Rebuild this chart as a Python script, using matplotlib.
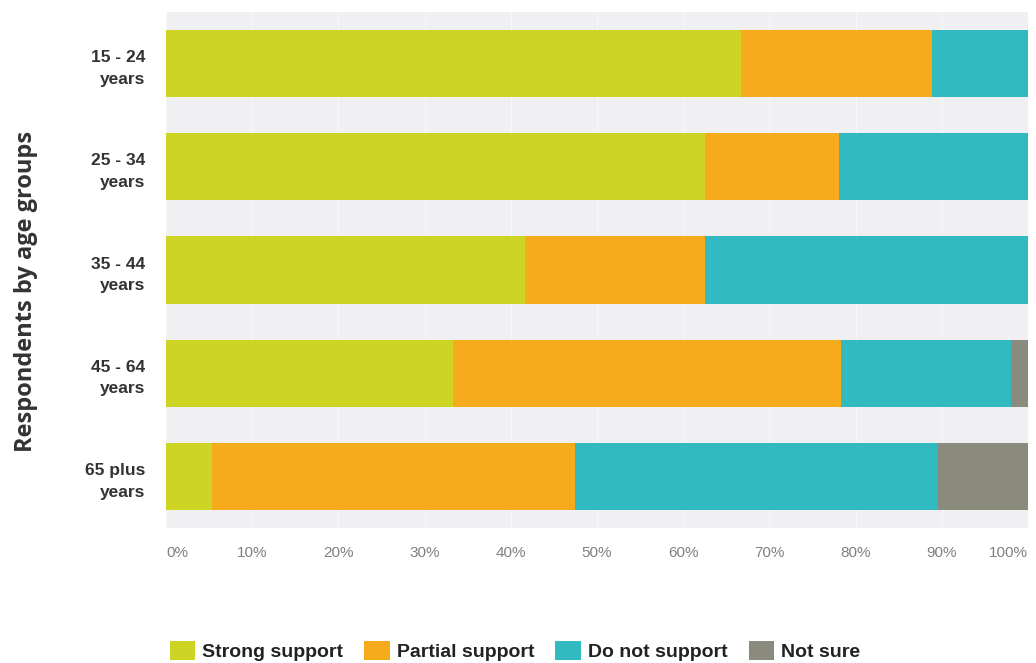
import matplotlib
matplotlib.use("Agg")
import matplotlib.pyplot as plt
import numpy as np

# age groups, top to bottom
groups = ["15 - 24\nyears", "25 - 34\nyears", "35 - 44\nyears", "45 - 64\nyears", "65 plus\nyears"]
series = ["Strong support", "Partial support", "Do not support", "Not sure"]

strong = [66.7, 62.5, 41.7, 33.3, 5.3]
partial = [22.2, 15.6, 20.8, 45.0, 42.1]
not_support = [11.1, 21.9, 37.5, 19.7, 42.1]
not_sure = [0.0, 0.0, 0.0, 2.0, 10.5]

colors = ["#cdd424", "#f5ab1c", "#31bbc0", "#8a8b7c"]

fig = plt.figure(figsize=(10.36, 6.63), dpi=100)
ax = fig.add_axes([0.1602, 0.2036, 0.8321, 0.7783])
ax.set_facecolor("#f0f0f2")

y = np.arange(len(groups))
left = np.zeros(len(groups))
for name, vals, col in zip(series, [strong, partial, not_support, not_sure], colors):
    ax.barh(y, vals, left=left, height=0.65, color=col, label=name, zorder=3)
    left += np.array(vals)

ax.set_xlim(0, 100)
ax.set_ylim(len(groups) - 0.5, -0.5)
ax.set_xticks(np.arange(0, 101, 10))
ax.set_xticklabels([f"{v}%" for v in range(0, 101, 10)], color="#808080",
                   fontsize=11, family="Liberation Sans")
xl = ax.get_xticklabels()
xl[0].set_ha("left")
xl[-1].set_ha("right")
ax.set_yticks(y)
ax.set_yticklabels(groups, fontsize=12.5, fontweight="bold", color="#333333",
                   family="Liberation Sans", ha="right", linespacing=1.55)
ax.tick_params(axis="both", length=0)
ax.tick_params(axis="x", pad=13)
ax.tick_params(axis="y", pad=15)
ax.grid(axis="x", color="#f8f8fa", linewidth=0.8, zorder=0)
for s in ax.spines.values():
    s.set_visible(False)

fig.text(0.025, 0.56, "Respondents by age groups", rotation=90, va="center", ha="center",
         fontsize=17, fontweight="bold", color="#333333", family="Open Sans")

fig.legend(loc="center", bbox_to_anchor=(0.497, 0.018), ncol=4, frameon=False,
           prop={"family": "Liberation Sans", "weight": "bold", "size": 14},
           handlelength=1.3, handleheight=1.1, handletextpad=0.35, columnspacing=1.1,
           labelcolor="#222222")

fig.savefig("out.png", dpi=100)
